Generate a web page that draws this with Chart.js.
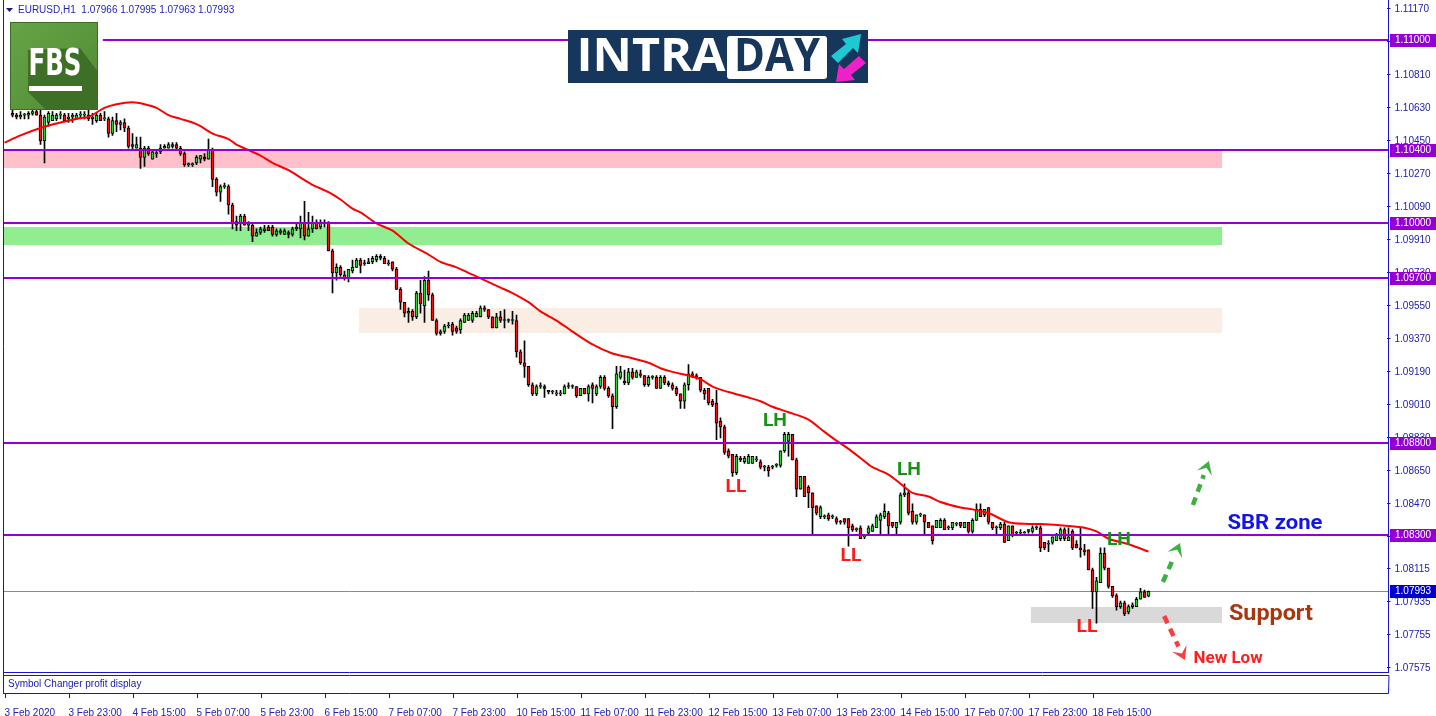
<!DOCTYPE html>
<html>
<head>
<meta charset="utf-8">
<script src="https://cdn.jsdelivr.net/npm/chart.js@4.4.1/dist/chart.umd.min.js"></script>
<style>
  html, body { margin: 0; padding: 0; background: #fff; }
  #wrap { width: 1436px; height: 716px; }
</style>
</head>
<body>
<div id="wrap"><canvas id="chart" width="1436" height="716"></canvas></div>
<script>
// ---- data ----
const symbol = 'EURUSD';
const timeframe = 'H1';
const firstLabel = '3 Feb 2020';
const days = ['3 Feb', '4 Feb', '5 Feb', '6 Feb', '7 Feb', '10 Feb', '11 Feb', '12 Feb', '13 Feb', '14 Feb',
  '17 Feb', '18 Feb', '19 Feb', '20 Feb', '21 Feb', '24 Feb'];
const firstHour = 7;      // first visible slot: 3 Feb 07:00
const barCount = 346;     // categories incl. empty chart shift on the right
const timeTicks = ['3 Feb 23:00', '4 Feb 15:00', '5 Feb 07:00', '5 Feb 23:00', '6 Feb 15:00', '7 Feb 07:00',
  '7 Feb 23:00', '10 Feb 15:00', '11 Feb 07:00', '11 Feb 23:00', '12 Feb 15:00', '13 Feb 07:00',
  '13 Feb 23:00', '14 Feb 15:00', '17 Feb 07:00', '17 Feb 23:00', '18 Feb 15:00'];
const yTicks = [1.11170, 1.10990, 1.10810, 1.10630, 1.10450, 1.10270, 1.10090, 1.09910, 1.09730, 1.09550,
  1.09370, 1.09190, 1.09010, 1.08830, 1.08650, 1.08470, 1.08290, 1.08115, 1.07935, 1.07755, 1.07575];

const opens = [
null,null,1.1060,1.1059,1.1058,1.1059,1.1059,1.1060,1.1061,1.1059,
1.1045,1.1055,1.1056,1.1057,1.1059,1.1059,1.1057,1.1058,1.1057,1.1059,
1.1059,1.1059,1.1057,1.1056,1.1059,1.1057,1.1057,1.1049,1.1056,1.1054,
1.1055,1.1052,1.1043,1.1041,1.1041,1.1036,1.1041,1.1035,1.1038,1.1039,
1.1041,1.1041,1.1043,1.1043,1.1041,1.1038,1.1032,1.1032,1.1033,1.1035,
1.1036,1.1035,1.1040,1.1024,1.1017,1.1020,1.1020,1.1010,1.1001,1.1000,
1.1004,1.0999,1.0999,1.0993,1.0995,1.0996,1.0998,1.0998,1.0994,1.0996,
1.0994,1.0995,1.0994,1.0997,1.0997,1.1000,1.0993,1.0997,1.1000,1.0998,
1.1000,1.1000,1.0985,1.0973,1.0976,1.0972,1.0970,1.0974,1.0976,1.0980,
1.0978,1.0978,1.0979,1.0980,1.0982,1.0981,1.0978,1.0979,1.0975,1.0964,
1.0957,1.0951,1.0952,1.0949,1.0962,1.0955,1.0969,1.0961,1.0947,1.0940,
1.0941,1.0944,1.0945,1.0943,1.0942,1.0946,1.0947,1.0947,1.0949,1.0949,
1.0954,1.0953,1.0949,1.0943,1.0949,1.0947,1.0947,1.0947,1.0947,1.0930,
1.0924,1.0922,1.0912,1.0907,1.0911,1.0911,1.0909,1.0908,1.0907,1.0907,
1.0907,1.0911,1.0911,1.0911,1.0906,1.0910,1.0907,1.0912,1.0907,1.0911,
1.0916,1.0910,1.0906,1.0900,1.0916,1.0914,1.0913,1.0919,1.0916,1.0918,
1.0917,1.0912,1.0916,1.0916,1.0910,1.0916,1.0913,1.0912,1.0910,1.0907,
1.0903,1.0912,1.0918,1.0917,1.0916,1.0909,1.0910,1.0903,1.0902,1.0892,
1.0889,1.0876,1.0874,1.0864,1.0872,1.0870,1.0869,1.0869,1.0871,1.0870,
1.0867,1.0867,1.0867,1.0868,1.0868,1.0876,1.0881,1.0885,1.0871,1.0855,
1.0862,1.0856,1.0853,1.0846,1.0840,1.0840,1.0841,1.0840,1.0839,1.0837,
1.0839,1.0839,1.0835,1.0833,1.0834,1.0829,1.0831,1.0832,1.0834,1.0838,
1.0840,1.0842,1.0837,1.0834,1.0837,1.0852,1.0853,1.0843,1.0837,1.0841,
1.0841,1.0837,1.0835,1.0834,1.0834,1.0838,1.0834,1.0834,1.0836,1.0837,
1.0834,1.0837,1.0832,1.0838,1.0844,1.0841,1.0845,1.0837,1.0834,1.0834,
1.0836,1.0827,1.0835,1.0831,1.0831,1.0831,1.0832,1.0832,1.0834,1.0834,
1.0826,1.0825,1.0826,1.0827,1.0828,1.0833,1.0827,1.0832,1.0825,1.0823,
1.0822,1.0822,1.0811,1.0799,1.0804,1.0820,1.0812,1.0802,1.0797,1.0791,
1.0793,1.0788,1.0791,1.0791,1.0795,1.0799,1.07966
];
const highs = [
null,null,1.1062,1.1060,1.1061,1.1060,1.1061,1.1063,1.1064,1.1062,
1.1059,1.1061,1.1061,1.1060,1.1061,1.1060,1.1060,1.1060,1.1060,1.1061,
1.1061,1.1062,1.1060,1.1060,1.1060,1.1061,1.1058,1.1058,1.1060,1.1056,
1.1057,1.1053,1.1049,1.1047,1.1047,1.1042,1.1042,1.1040,1.1040,1.1043,
1.1043,1.1044,1.1044,1.1044,1.1042,1.1039,1.1033,1.1033,1.1037,1.1037,
1.1038,1.1046,1.1041,1.1025,1.1021,1.1022,1.1021,1.1011,1.1004,1.1005,
1.1005,1.1001,1.1000,1.0997,1.0998,1.0999,1.0999,1.0999,1.0997,1.0997,
1.0997,1.0996,1.0998,1.1000,1.1004,1.1012,1.1006,1.1004,1.1002,1.1002,
1.1002,1.1001,1.0986,1.0978,1.0977,1.0974,1.0975,1.0980,1.0981,1.0981,
1.0980,1.0981,1.0982,1.0983,1.0983,1.0982,1.0980,1.0979,1.0976,1.0965,
1.0957,1.0954,1.0953,1.0963,1.0969,1.0971,1.0974,1.0962,1.0948,1.0942,
1.0945,1.0946,1.0946,1.0944,1.0948,1.0951,1.0951,1.0952,1.0952,1.0955,
1.0955,1.0953,1.0949,1.0951,1.0952,1.0953,1.0948,1.0952,1.0950,1.0931,
1.0936,1.0922,1.0913,1.0912,1.0913,1.0912,1.0909,1.0909,1.0909,1.0909,
1.0912,1.0913,1.0912,1.0911,1.0910,1.0910,1.0912,1.0913,1.0912,1.0917,
1.0917,1.0911,1.0907,1.0922,1.0922,1.0920,1.0921,1.0921,1.0920,1.0920,
1.0917,1.0917,1.0917,1.0917,1.0917,1.0917,1.0914,1.0913,1.0911,1.0907,
1.0913,1.0923,1.0919,1.0918,1.0916,1.0910,1.0910,1.0904,1.0909,1.0894,
1.0890,1.0877,1.0874,1.0874,1.0873,1.0873,1.0874,1.0873,1.0873,1.0871,
1.0868,1.0868,1.0868,1.0869,1.0876,1.0886,1.0886,1.0885,1.0872,1.0862,
1.0862,1.0857,1.0853,1.0846,1.0846,1.0841,1.0842,1.0841,1.0840,1.0838,
1.0839,1.0839,1.0836,1.0834,1.0835,1.0830,1.0835,1.0836,1.0841,1.0842,
1.0847,1.0843,1.0837,1.0837,1.0853,1.0858,1.0854,1.0847,1.0841,1.0842,
1.0841,1.0837,1.0835,1.0838,1.0839,1.0839,1.0835,1.0837,1.0837,1.0837,
1.0837,1.0837,1.0839,1.0847,1.0847,1.0844,1.0845,1.0837,1.0835,1.0837,
1.0837,1.0835,1.0835,1.0832,1.0833,1.0832,1.0833,1.0835,1.0835,1.0835,
1.0826,1.0827,1.0829,1.0831,1.0834,1.0834,1.0834,1.0833,1.0827,1.0834,
1.0825,1.0822,1.0812,1.0807,1.0823,1.0823,1.0812,1.0802,1.0798,1.0794,
1.0794,1.0792,1.0793,1.0796,1.0801,1.0800,1.07995
];
const lows = [
null,null,1.1058,1.1057,1.1057,1.1057,1.1057,1.1059,1.1059,1.1043,
1.1033,1.1053,1.1056,1.1056,1.1057,1.1056,1.1055,1.1055,1.1057,1.1057,
1.1057,1.1056,1.1054,1.1055,1.1056,1.1056,1.1047,1.1048,1.1050,1.1051,
1.1050,1.1041,1.1040,1.1041,1.1030,1.1031,1.1037,1.1035,1.1036,1.1038,
1.1041,1.1041,1.1041,1.1040,1.1037,1.1031,1.1031,1.1031,1.1032,1.1033,
1.1034,1.1035,1.1020,1.1015,1.1012,1.1019,1.1005,1.0997,1.0996,1.0996,
1.0999,1.0996,1.0990,1.0993,1.0994,1.0995,1.0996,1.0993,1.0993,1.0994,
1.0994,1.0992,1.0993,1.0996,1.0992,1.0991,1.0993,1.0995,1.0997,1.0997,
1.0998,1.0985,1.0962,1.0969,1.0971,1.0969,1.0968,1.0973,1.0976,1.0973,
1.0977,1.0978,1.0978,1.0979,1.0980,1.0978,1.0977,1.0974,1.0964,1.0953,
1.0949,1.0946,1.0947,1.0948,1.0951,1.0946,1.0958,1.0947,1.0939,1.0939,
1.0940,1.0943,1.0939,1.0940,1.0940,1.0946,1.0947,1.0946,1.0949,1.0949,
1.0952,1.0948,1.0943,1.0943,1.0946,1.0943,1.0946,1.0945,1.0927,1.0923,
1.0916,1.0911,1.0906,1.0906,1.0910,1.0905,1.0907,1.0907,1.0906,1.0906,
1.0907,1.0910,1.0910,1.0905,1.0906,1.0907,1.0903,1.0902,1.0906,1.0910,
1.0909,1.0905,1.0888,1.0899,1.0915,1.0912,1.0912,1.0915,1.0916,1.0916,
1.0911,1.0911,1.0915,1.0910,1.0910,1.0912,1.0911,1.0909,1.0906,1.0899,
1.0899,1.0909,1.0916,1.0915,1.0908,1.0904,1.0901,1.0900,1.0882,1.0883,
1.0874,1.0872,1.0862,1.0863,1.0870,1.0869,1.0869,1.0869,1.0870,1.0866,
1.0865,1.0862,1.0866,1.0867,1.0867,1.0875,1.0873,1.0871,1.0851,1.0855,
1.0851,1.0845,1.0830,1.0841,1.0839,1.0839,1.0838,1.0839,1.0836,1.0836,
1.0836,1.0824,1.0832,1.0832,1.0828,1.0828,1.0830,1.0832,1.0834,1.0830,
1.0839,1.0830,1.0834,1.0830,1.0836,1.0851,1.0841,1.0836,1.0836,1.0840,
1.0830,1.0834,1.0825,1.0834,1.0834,1.0833,1.0833,1.0833,1.0835,1.0834,
1.0834,1.0831,1.0831,1.0838,1.0840,1.0840,1.0836,1.0833,1.0830,1.0833,
1.0826,1.0827,1.0829,1.0830,1.0830,1.0831,1.0831,1.0831,1.0833,1.0821,
1.0822,1.0821,1.0825,1.0827,1.0827,1.0827,1.0827,1.0822,1.0823,1.0818,
1.0819,1.0811,1.0790,1.0782,1.0804,1.0811,1.0801,1.0796,1.0789,1.0790,
1.0786,1.0787,1.0790,1.0791,1.0795,1.0796,1.07963
];
const closes = [
null,null,1.1059,1.1058,1.1059,1.1059,1.1060,1.1061,1.1059,1.1045,
1.1058,1.1060,1.1059,1.1059,1.1059,1.1056,1.1058,1.1059,1.1059,1.1059,
1.1059,1.1057,1.1058,1.1059,1.1056,1.1057,1.1049,1.1056,1.1054,1.1055,
1.1052,1.1042,1.1042,1.1043,1.1036,1.1041,1.1038,1.1039,1.1038,1.1041,
1.1042,1.1043,1.1042,1.1041,1.1038,1.1032,1.1032,1.1032,1.1036,1.1037,
1.1035,1.1040,1.1024,1.1017,1.1020,1.1020,1.1010,1.1000,1.0999,1.1004,
1.0999,1.0999,1.0993,1.0995,1.0997,1.0997,1.0996,1.0994,1.0996,1.0995,
1.0996,1.0994,1.0997,1.0998,1.1000,1.0993,1.0997,1.1000,1.0997,1.1000,
1.1000,1.0985,1.0973,1.0976,1.0972,1.0970,1.0975,1.0976,1.0980,1.0977,
1.0978,1.0979,1.0981,1.0982,1.0981,1.0978,1.0978,1.0975,1.0964,1.0957,
1.0951,1.0952,1.0949,1.0962,1.0956,1.0969,1.0961,1.0947,1.0940,1.0941,
1.0944,1.0944,1.0941,1.0941,1.0947,1.0950,1.0950,1.0951,1.0951,1.0954,
1.0953,1.0949,1.0943,1.0949,1.0947,1.0947,1.0947,1.0947,1.0930,1.0924,
1.0922,1.0912,1.0907,1.0911,1.0911,1.0910,1.0908,1.0908,1.0907,1.0907,
1.0911,1.0911,1.0911,1.0906,1.0910,1.0907,1.0911,1.0910,1.0911,1.0916,
1.0910,1.0906,1.0900,1.0918,1.0919,1.0913,1.0919,1.0916,1.0919,1.0917,
1.0912,1.0916,1.0916,1.0910,1.0916,1.0913,1.0912,1.0910,1.0907,1.0903,
1.0912,1.0918,1.0917,1.0916,1.0909,1.0907,1.0902,1.0901,1.0891,1.0889,
1.0875,1.0873,1.0864,1.0873,1.0871,1.0872,1.0873,1.0873,1.0871,1.0867,
1.0867,1.0865,1.0867,1.0868,1.0876,1.0885,1.0885,1.0871,1.0855,1.0862,
1.0851,1.0853,1.0845,1.0842,1.0845,1.0840,1.0839,1.0840,1.0837,1.0837,
1.0837,1.0834,1.0833,1.0833,1.0828,1.0829,1.0834,1.0835,1.0840,1.0841,
1.0843,1.0835,1.0835,1.0837,1.0852,1.0853,1.0842,1.0837,1.0841,1.0841,
1.0837,1.0834,1.0827,1.0838,1.0838,1.0833,1.0834,1.0837,1.0836,1.0835,
1.0837,1.0832,1.0838,1.0844,1.0840,1.0844,1.0837,1.0834,1.0834,1.0836,
1.0826,1.0835,1.0830,1.0831,1.0831,1.0831,1.0833,1.0834,1.0834,1.0823,
1.0823,1.0825,1.0829,1.0830,1.0833,1.0828,1.0829,1.0823,1.0823,1.0822,
1.0821,1.0811,1.0799,1.0805,1.0820,1.0812,1.0802,1.0797,1.0791,1.0793,
1.0787,1.0791,1.0792,1.0795,1.0799,1.0796,1.07993
];

// red moving average, sampled along the curve (bar index, price)
const maIdx = [0,4,9,14,19,21,25,28,32,35,38,41,44,47,49,52,56,58,61,64,67,71,74,77,81,84,87,89,93,97,
  101,106,109,113,117,124,127,131,134,138,142,147,152,156,161,164,167,171,174,177,181,186,189,192,196,
  201,204,207,211,214,217,221,224,227,231,234,239,242,246,251,256,259,266,270,273,276,281,286];
const maVals = [1.1044,1.1048,1.1052,1.1055,1.10575,1.1058,1.1063,1.1065,1.1066,1.1065,1.1063,1.1059,1.1057,
  1.1055,1.1053,1.1049,1.1046,1.1043,1.1040,1.1037,1.1033,1.1029,1.1025,1.1021,1.1017,1.1013,1.1008,1.1006,
  1.1000,1.0996,1.0989,1.0983,1.0979,1.0976,1.0972,1.0965,1.0962,1.0957,1.0952,1.0947,1.0941,1.0934,1.0929,
  1.0927,1.0924,1.0921,1.0919,1.0917,1.0915,1.0911,1.0908,1.0905,1.0903,1.0900,1.0897,1.0893,1.0888,1.0883,
  1.0877,1.0872,1.0867,1.0863,1.0858,1.0853,1.0851,1.0848,1.0845,1.0844,1.0842,1.0837,1.0836,1.0836,1.0835,
  1.0834,1.0832,1.0828,1.0825,1.0821];

// horizontal levels (price, first bar index; null = from the left edge)
const levelPrices = [1.1100, 1.1040, 1.1000, 1.0970, 1.0880, 1.0830];
const levelFrom = [24.6, null, null, null, null, null];

// zones (top price, bottom price, from bar, to bar)
const zoneTop = [1.1040, 1.0998, 1.0954, 1.0791];
const zoneBottom = [1.1030, 1.0988, 1.0940, 1.0782];
const zoneFrom = [null, null, 88.6, 256.6];
const zoneTo = [304.4, 304.4, 304.4, 304.4];

// text notes (bar index, price)
const noteText = ['LH', 'LL', 'LL', 'LH', 'LL', 'LH', 'SBR zone', 'Support', 'New Low'];
const noteIdx = [192.6, 182.9, 211.6, 226.1, 270.6, 278.6, 317.6, 316.6, 305.9];
const notePrice = [1.08922, 1.08560, 1.08185, 1.08655, 1.07798, 1.08273, 1.08360, 1.07864, 1.07624];

// dashed arrows (from bar/price to bar/price)
const arrowFromIdx = [289.6, 297.1, 289.9];
const arrowFromPrice = [1.08044, 1.08464, 1.07858];
const arrowToIdx = [293.9, 301.1, 295.1];
const arrowToPrice = [1.08256, 1.08704, 1.07618];
const arrowKind = ['up', 'up', 'down'];

// ---- categories ----
const cats = [];
for (let d = 0; d < days.length && cats.length < barCount; d++) {
  for (let h = d === 0 ? firstHour : 0; h < 24 && cats.length < barCount; h++) {
    cats.push(days[d] + ' ' + String(h).padStart(2, '0') + ':00');
  }
}
const tickSet = new Set(timeTicks);
const last = closes.length - 1;

// ---- styles ----
const FRAME = '#1414d2';
const AXIS_TEXT = '#2020b0';
const LEVEL = '#9400d3';
const BULL = '#32cd32';
const BEAR = '#f01010';
const zoneColors = ['#ffc0cb', '#90ee90', '#faeee4', '#d9d9d9'];
const AXIS_FONT = '10px "Liberation Sans", Arial, sans-serif';
const noteStyle = {
  'LH': { color: '#149314', size: 19, width: 24 },
  'LL': { color: '#ff1a1a', size: 19, width: 21 },
  'SBR zone': { color: '#1414e6', size: 21, width: 95 },
  'Support': { color: '#a8360f', size: 22, width: 84 },
  'New Low': { color: '#ff1f1f', size: 17, width: 69 }
};

function fitText(ctx, text, cx, cy, size, width, color, family) {
  ctx.save();
  ctx.font = 'bold ' + size + 'px ' + family;
  const w = ctx.measureText(text).width;
  ctx.translate(cx, cy);
  ctx.scale(width / w, 1);
  ctx.fillStyle = color;
  ctx.textAlign = 'center';
  ctx.textBaseline = 'middle';
  ctx.fillText(text, 0, 0);
  ctx.restore();
}

function drawArrow(ctx, x0, y0, x1, y1, color) {
  const dx = x1 - x0, dy = y1 - y0, len = Math.hypot(dx, dy);
  const ux = dx / len, uy = dy / len, nx = -uy, ny = ux;
  const head = 13;
  ctx.save();
  ctx.strokeStyle = color;
  ctx.lineWidth = 4.5;
  ctx.setLineDash([8, 6]);
  ctx.beginPath();
  ctx.moveTo(x0, y0);
  ctx.lineTo(x1 - ux * (head + 2), y1 - uy * (head + 2));
  ctx.stroke();
  ctx.setLineDash([]);
  ctx.fillStyle = color;
  const bx = x1 - ux * head, by = y1 - uy * head;
  ctx.beginPath();
  ctx.moveTo(x1, y1);
  ctx.lineTo(bx + nx * 8, by + ny * 8);
  ctx.lineTo(x1 - ux * head * 0.55, y1 - uy * head * 0.55);
  ctx.lineTo(bx - nx * 8, by - ny * 8);
  ctx.closePath();
  ctx.fill();
  ctx.restore();
}

function drawFBS(ctx) {
  const x = 10, y = 22, s = 88;
  const g = ctx.createLinearGradient(x, y, x + s, y + s);
  g.addColorStop(0, '#67a446');
  g.addColorStop(1, '#4f8a33');
  ctx.fillStyle = g;
  ctx.fillRect(x, y, s, s);
  ctx.save();
  ctx.beginPath(); ctx.rect(x, y, s, s); ctx.clip();
  ctx.fillStyle = '#3e6f27';
  ctx.beginPath();
  ctx.moveTo(x + 70, y + 26);
  ctx.lineTo(x + s, y + 50);
  ctx.lineTo(x + s, y + s);
  ctx.lineTo(x + 36, y + s);
  ctx.lineTo(x + 18, y + 70);
  ctx.lineTo(x + 18, y + 28);
  ctx.closePath();
  ctx.fill();
  ctx.restore();
  fitText(ctx, 'FBS', x + 45, y + 43, 38, 53, '#ffffff', '"DejaVu Sans Condensed", "Liberation Sans Narrow", sans-serif');
  ctx.fillStyle = '#ffffff';
  ctx.fillRect(x + 19, y + 64, 53, 5);
  ctx.strokeStyle = '#3d6a25';
  ctx.lineWidth = 1;
  ctx.strokeRect(x + 0.5, y + 0.5, s - 1, s - 1);
}

function drawIntraday(ctx) {
  ctx.fillStyle = '#17365c';
  ctx.fillRect(568, 30, 300, 53);
  fitText(ctx, 'INTRA', 651, 58, 46, 149, '#ffffff', '"Open Sans", "DejaVu Sans", sans-serif');
  ctx.fillStyle = '#ffffff';
  ctx.beginPath();
  ctx.roundRect(727, 36, 100, 43, 3);
  ctx.fill();
  fitText(ctx, 'DAY', 777, 58, 46, 86, '#17365c', '"Open Sans", "DejaVu Sans", sans-serif');
  // cyan arrow up-right
  ctx.fillStyle = '#1ec9d2';
  ctx.beginPath();
  ctx.moveTo(831, 56); ctx.lineTo(846, 44); ctx.lineTo(842, 39); ctx.lineTo(861, 34);
  ctx.lineTo(858, 53); ctx.lineTo(853, 48); ctx.lineTo(838, 63); ctx.closePath(); ctx.fill();
  // magenta arrow down-left
  ctx.fillStyle = '#f020c8';
  ctx.beginPath();
  ctx.moveTo(866, 63); ctx.lineTo(851, 75); ctx.lineTo(855, 80); ctx.lineTo(836, 82);
  ctx.lineTo(839, 64); ctx.lineTo(844, 69); ctx.lineTo(859, 56); ctx.closePath(); ctx.fill();
}

const overlay = {
  id: 'overlay',
  beforeDatasetsDraw(chart) {
    const { ctx, scales: { x, y } } = chart;
    ctx.save();
    zoneTop.forEach((t, k) => {
      const x0 = zoneFrom[k] === null ? 3 : x.getPixelForValue(zoneFrom[k]);
      const x1 = x.getPixelForValue(zoneTo[k]);
      const y0 = Math.round(y.getPixelForValue(t));
      const y1 = Math.round(y.getPixelForValue(zoneBottom[k]));
      ctx.fillStyle = zoneColors[k];
      ctx.fillRect(x0, y0, x1 - x0, y1 - y0);
    });
    const yp = Math.round(y.getPixelForValue(closes[last])) + 0.5;
    ctx.strokeStyle = '#8a8a8a';
    ctx.lineWidth = 1;
    ctx.beginPath(); ctx.moveTo(3, yp); ctx.lineTo(1388, yp); ctx.stroke();
    ctx.restore();
  },
  afterDatasetsDraw(chart) {
    const { ctx, scales: { x, y } } = chart;
    ctx.save();
    ctx.strokeStyle = LEVEL;
    ctx.lineWidth = 2;
    levelPrices.forEach((p, k) => {
      const yy = Math.round(y.getPixelForValue(p));
      const x0 = levelFrom[k] === null ? 3 : x.getPixelForValue(levelFrom[k]);
      ctx.beginPath(); ctx.moveTo(x0, yy); ctx.lineTo(1388, yy); ctx.stroke();
    });
    ctx.restore();
  },
  afterDraw(chart) {
    const { ctx, scales: { x, y } } = chart;
    ctx.save();
    // frame
    ctx.strokeStyle = FRAME;
    ctx.lineWidth = 1;
    ctx.beginPath();
    ctx.moveTo(3.5, 0); ctx.lineTo(3.5, 693.5);
    ctx.moveTo(1388.5, 0); ctx.lineTo(1388.5, 672.5);
    ctx.moveTo(3, 672.5); ctx.lineTo(1389, 672.5);
    ctx.moveTo(3, 675.5); ctx.lineTo(1389, 675.5);
    ctx.lineTo(1388.5, 693.5); ctx.lineTo(3, 693.5);
    ctx.stroke();
    // time tick marks under the sub window
    ctx.beginPath();
    cats.forEach((c, i) => {
      if (i === 0 || tickSet.has(c)) {
        const xx = Math.round(x.getPixelForValue(i)) + 0.5;
        ctx.moveTo(xx, 693); ctx.lineTo(xx, 698);
      }
    });
    ctx.stroke();
    ctx.font = AXIS_FONT;
    ctx.fillStyle = AXIS_TEXT;
    ctx.textBaseline = 'middle';
    ctx.textAlign = 'left';
    ctx.fillText('Symbol Changer profit display', 8, 684);

    // price tags on the axis
    const tag = (p, color) => {
      const yy = Math.round(y.getPixelForValue(p));
      ctx.fillStyle = color;
      ctx.fillRect(1390, yy - 6, 46, 13);
      ctx.fillStyle = '#ffffff';
      ctx.fillText(p.toFixed(5), 1395, yy + 0.5);
    };
    levelPrices.forEach(p => tag(p, LEVEL));
    tag(closes[last], '#0000cd');

    // header
    ctx.fillStyle = '#1a1a8a';
    ctx.beginPath(); ctx.moveTo(6, 8); ctx.lineTo(13, 8); ctx.lineTo(9.5, 12); ctx.closePath(); ctx.fill();
    ctx.fillStyle = '#2424b8';
    const hdr = symbol + ',' + timeframe + '  ' + [opens[last], highs[last], lows[last], closes[last]].map(v => v.toFixed(5)).join(' ');
    ctx.fillText(hdr, 18, 10);

    drawFBS(ctx);
    drawIntraday(ctx);

    // notes
    noteText.forEach((t, k) => {
      const st = noteStyle[t];
      fitText(ctx, t, x.getPixelForValue(noteIdx[k]), y.getPixelForValue(notePrice[k]), st.size, st.width, st.color, 'Roboto, "DejaVu Sans", sans-serif');
    });
    // arrows
    arrowKind.forEach((kind, k) => {
      drawArrow(ctx,
        x.getPixelForValue(arrowFromIdx[k]), y.getPixelForValue(arrowFromPrice[k]),
        x.getPixelForValue(arrowToIdx[k]), y.getPixelForValue(arrowToPrice[k]),
        kind === 'up' ? '#3cb043' : '#ff3b3b');
    });
    ctx.restore();
  }
};

new Chart(document.getElementById('chart'), {
  type: 'bar',
  data: {
    labels: cats,
    datasets: [
      {
        label: 'wick',
        data: lows.map((l, i) => l === null ? null : [l, highs[i]]),
        backgroundColor: '#000000',
        barThickness: 1,
        grouped: false,
        order: 2
      },
      {
        label: 'body',
        data: opens.map((o, i) => o === null ? null : [o, closes[i]]),
        backgroundColor: opens.map((o, i) => closes[i] >= o ? BULL : BEAR),
        borderColor: '#000000',
        borderWidth: 1,
        borderSkipped: false,
        barThickness: 3,
        minBarLength: 1,
        grouped: false,
        order: 1
      },
      {
        type: 'line',
        label: 'MA',
        data: maIdx.map((k, j) => ({ x: cats[k], y: maVals[j] })),
        borderColor: '#ff0000',
        borderWidth: 2,
        pointRadius: 0,
        tension: 0.3,
        order: 0
      }
    ]
  },
  options: {
    responsive: false,
    devicePixelRatio: 1,
    animation: false,
    events: [],
    layout: { padding: { left: 2.5, top: 3, right: 0, bottom: 0 } },
    plugins: { legend: { display: false }, tooltip: { enabled: false } },
    scales: {
      x: {
        offset: true,
        grid: { display: false },
        border: { display: false },
        ticks: {
          autoSkip: false,
          maxRotation: 0,
          minRotation: 0,
          align: 'start',
          padding: 27,
          color: AXIS_TEXT,
          font: { family: '"Liberation Sans", Arial, sans-serif', size: 10 },
          callback: (v, i) => i === 0 ? firstLabel : (tickSet.has(cats[i]) ? cats[i] : '')
        },
        afterFit: s => { s.height = 44; s.paddingLeft = 0; s.paddingRight = 0; }
      },
      y: {
        position: 'right',
        min: 1.07553,
        max: 1.11202,
        afterBuildTicks: s => { s.ticks = yTicks.map(v => ({ value: v })); },
        grid: { drawOnChartArea: false, drawTicks: true, tickLength: 4, color: FRAME },
        border: { display: false },
        ticks: {
          padding: 4,
          color: AXIS_TEXT,
          font: { family: '"Liberation Sans", Arial, sans-serif', size: 10 },
          callback: v => Number(v).toFixed(5)
        },
        afterFit: s => { s.width = 49.5; s.paddingTop = 0; s.paddingBottom = 0; }
      }
    }
  },
  plugins: [overlay]
});
</script>
</body>
</html>
